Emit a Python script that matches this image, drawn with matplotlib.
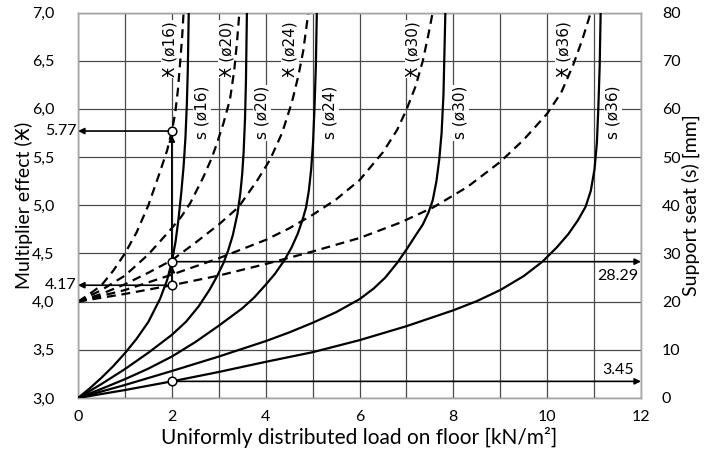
import matplotlib
matplotlib.use("Agg")
import matplotlib.pyplot as plt
from matplotlib.ticker import MultipleLocator, FixedLocator, FixedFormatter

plt.rcParams['font.family'] = ['Lato', 'DejaVu Sans']

# Support seat s [mm] against floor load [kN/m2], one curve per bar diameter
load_s16 = [0, 0.25, 0.5, 0.75, 1.0, 1.25, 1.5, 1.75, 1.9, 2.0, 2.08, 2.14, 2.2, 2.25,
            2.29, 2.32, 2.34, 2.36]
seat_s16 = [0, 2.0, 4.2, 6.6, 9.3, 12.3, 15.8, 20.6, 24.5, 28.29, 32.5, 37.0, 42.5, 48.0,
            54.0, 61.0, 68.0, 80.0]

load_s20 = [0, 0.5, 1.0, 1.5, 2.0, 2.3, 2.57, 2.8, 2.96, 3.1, 3.2, 3.3, 3.4, 3.46, 3.5,
            3.53, 3.56, 3.58, 3.6]
seat_s20 = [0, 2.9, 6.0, 9.4, 13.1, 15.8, 19.0, 22.4, 25.2, 28.0, 30.6, 33.8, 38.3, 42.5,
            46.5, 51.0, 58.0, 66.0, 80.0]

load_s24 = [0, 0.5, 1.0, 1.5, 2.0, 2.5, 3.0, 3.5, 3.75, 4.0, 4.2, 4.4, 4.55, 4.68, 4.78,
            4.86, 4.92, 4.97, 5.01, 5.04, 5.07, 5.09]
seat_s24 = [0, 1.9, 3.9, 6.1, 8.6, 11.6, 15.0, 18.6, 20.8, 23.5, 25.8, 28.6, 31.2, 34.0,
            36.8, 39.5, 43.0, 47.5, 53.0, 60.0, 69.0, 80.0]

load_s30 = [0, 1.0, 2.0, 3.0, 3.5, 4.0, 4.5, 5.0, 5.5, 6.0, 6.3, 6.55, 6.8, 7.0, 7.2,
            7.35, 7.47, 7.56, 7.64, 7.7, 7.75, 7.79, 7.83]
seat_s30 = [0, 2.7, 5.6, 8.6, 10.2, 11.8, 13.6, 15.6, 17.8, 20.5, 22.7, 25.0, 28.0, 30.8,
            33.8, 36.0, 38.5, 41.0, 45.0, 49.5, 55.0, 63.0, 80.0]

load_s36 = [0, 1.0, 2.0, 3.0, 4.0, 5.0, 6.0, 7.0, 8.0, 8.5, 9.0, 9.5, 9.9, 10.2, 10.45,
            10.65, 10.82, 10.93, 11.01, 11.06, 11.09, 11.12, 11.14]
seat_s36 = [0, 1.65, 3.45, 5.4, 7.5, 9.5, 12.0, 14.9, 18.2, 20.1, 22.4, 25.3, 28.3, 31.2,
            34.0, 36.8, 39.7, 43.0, 47.5, 53.0, 60.0, 69.0, 80.0]

# Multiplier effect against floor load, same diameters
load_m16 = [0, 0.25, 0.5, 0.75, 1.0, 1.25, 1.5, 1.75, 1.9, 2.0, 2.07, 2.13, 2.18, 2.22, 2.25]
mult_m16 = [4.0, 4.08, 4.17, 4.32, 4.5, 4.72, 5.0, 5.35, 5.57, 5.77, 5.95, 6.2, 6.5, 6.75, 7.0]

load_m20 = [0, 0.5, 1.0, 1.5, 1.96, 2.2, 2.39, 2.67, 2.85, 2.96, 3.1, 3.24, 3.33, 3.39, 3.44]
mult_m20 = [4.0, 4.12, 4.27, 4.49, 4.74, 4.88, 5.02, 5.29, 5.49, 5.64, 5.85, 6.1, 6.4, 6.7, 7.0]

load_m24 = [0, 0.5, 1.0, 1.5, 2.0, 2.5, 3.0, 3.42, 3.81, 4.09, 4.35, 4.56, 4.7, 4.8, 4.91]
mult_m24 = [4.0, 4.08, 4.18, 4.3, 4.43, 4.61, 4.8, 4.98, 5.25, 5.47, 5.75, 6.07, 6.35, 6.6, 7.0]

load_m30 = [0, 1.0, 2.0, 3.0, 4.0, 4.5, 5.0, 5.5, 6.0, 6.5, 6.8, 7.0, 7.2, 7.35, 7.46, 7.56]
mult_m30 = [4.0, 4.12, 4.28, 4.45, 4.64, 4.76, 4.9, 5.06, 5.26, 5.55, 5.78, 5.99, 6.24, 6.5,
            6.75, 7.0]

load_m36 = [0, 1.0, 2.0, 3.0, 4.0, 5.0, 6.0, 6.87, 7.58, 8.3, 9.0, 9.5, 10.0, 10.3, 10.55,
            10.75, 10.93]
mult_m36 = [4.0, 4.08, 4.17, 4.27, 4.39, 4.52, 4.66, 4.82, 4.98, 5.19, 5.45, 5.68, 5.95, 6.17,
            6.45, 6.72, 7.0]

# Worked example at 2 kN/m2
example_load = 2
example_mult = [5.77, 4.17]
example_seat = [28.29, 3.45]

diameters = ['16', '20', '24', '30', '36']
left_ticks = [3.0, 3.5, 4.0, 4.5, 5.0, 5.5, 6.0, 6.5, 7.0]
left_tick_labels = ['3,0', '3,5', '4,0', '4,5', '5,0', '5,5', '6,0', '6,5', '7,0']
right_ticks = [0, 10, 20, 30, 40, 50, 60, 70, 80]

seat_curves = [(load_s16, seat_s16), (load_s20, seat_s20), (load_s24, seat_s24),
               (load_s30, seat_s30), (load_s36, seat_s36)]
mult_curves = [(load_m16, mult_m16), (load_m20, mult_m20), (load_m24, mult_m24),
               (load_m30, mult_m30), (load_m36, mult_m36)]

fig = plt.figure(figsize=(7.19, 4.63), dpi=100)
ax = fig.add_axes([0.1085, 0.1404, 0.783, 0.8326])
ax2 = ax.twinx()

ax.set_xlim(0, 12)
ax.set_ylim(3, 7)
ax2.set_ylim(0, 80)

ax.xaxis.set_major_locator(MultipleLocator(2))
ax.xaxis.set_minor_locator(MultipleLocator(1))
ax.yaxis.set_major_locator(FixedLocator(left_ticks))
ax.yaxis.set_major_formatter(FixedFormatter(left_tick_labels))
ax2.yaxis.set_major_locator(FixedLocator(right_ticks))

ax.set_axisbelow(True)
ax.grid(True, which='both', color='#4a4a4a', lw=0.9, zorder=0)

ax.tick_params(axis='x', which='both', length=0, pad=9, labelsize=11.5)
ax.tick_params(axis='y', length=0, pad=17, labelsize=11.5)
ax2.tick_params(axis='y', length=0, pad=15, labelsize=11.5)
for a in (ax, ax2):
    for sp in a.spines.values():
        sp.set_color('#a6a6a6')
        sp.set_linewidth(1.0)

ax.set_xlabel('Uniformly distributed load on floor [kN/m²]', fontsize=15, labelpad=2)
ax.set_ylabel('Multiplier effect (Ӿ)', fontsize=14, labelpad=-1)
ax2.set_ylabel('Support seat (s) [mm]', fontsize=14, labelpad=1)

# dashed multiplier curves on the left scale, solid seat curves on the right scale
for xs, ys in mult_curves:
    ax.plot(xs, ys, color='k', lw=1.6, linestyle=(0, (4, 2.6)), zorder=3)
for xs, ys in seat_curves:
    ax2.plot(xs, ys, color='k', lw=1.6, zorder=3)

# curve names, rotated, with white boxes knocking out the grid
label_style = dict(rotation=90, ha='center', va='center', fontsize=11,
                   family=['DejaVu Sans'], zorder=2,
                   bbox=dict(facecolor='white', edgecolor='none', pad=1.0))
mult_label_x = [1.96, 3.17, 4.52, 7.15, 10.35]
seat_label_x = [2.64, 3.92, 5.37, 8.15, 11.41]
for d, x in zip(diameters, mult_label_x):
    ax.text(x, 6.62, f'Ӿ (ø{d})', **label_style)
for d, x in zip(diameters, seat_label_x):
    ax.text(x, 5.96, f's (ø{d})', **label_style)

arrow = dict(arrowstyle='-|>', color='k', lw=1.2, mutation_scale=9,
             shrinkA=0, shrinkB=0)
circle = dict(marker='o', ms=6.2, mfc='white', mec='k', mew=1.1, ls='none', zorder=6)

# multiplier readings carried to the left axis
for m in example_mult:
    ax.annotate('', xy=(0, m), xytext=(example_load, m),
                arrowprops=dict(arrow, shrinkA=3), annotation_clip=False)
    ax.annotate(f'{m:.2f}', xy=(0, m), xytext=(-1, 0), textcoords='offset points',
                ha='right', va='center', fontsize=11.5, annotation_clip=False)

# seat readings carried to the right edge
ax2.annotate('', xy=(12, example_seat[0]), xytext=(example_load, example_seat[0]),
             arrowprops=dict(arrow, shrinkA=3), annotation_clip=False)
ax2.annotate(f'{example_seat[0]:.2f}', xy=(12, example_seat[0]), xytext=(-2, -5),
             textcoords='offset points', ha='right', va='top', fontsize=11.5)
ax2.annotate('', xy=(12, example_seat[1]), xytext=(example_load, example_seat[1]),
             arrowprops=dict(arrow, shrinkA=3), annotation_clip=False)
ax2.annotate(f'{example_seat[1]:.2f}', xy=(12, example_seat[1]), xytext=(-5, 3),
             textcoords='offset points', ha='right', va='bottom', fontsize=11.5)

# vertical path linking the readings at the example load
ax.annotate('', xy=(example_load, example_seat[0]), xycoords=ax2.transData,
            xytext=(example_load, example_mult[1]), textcoords=ax.transData,
            arrowprops=dict(arrow, shrinkA=3, shrinkB=3))
ax.annotate('', xy=(example_load, example_mult[0]), xycoords=ax.transData,
            xytext=(example_load, example_seat[0]), textcoords=ax2.transData,
            arrowprops=dict(arrow, shrinkA=3, shrinkB=3))

ax.plot([example_load] * 2, example_mult, **circle)
ax2.plot([example_load] * 2, example_seat, **circle)

fig.savefig('out.png', dpi=100)
